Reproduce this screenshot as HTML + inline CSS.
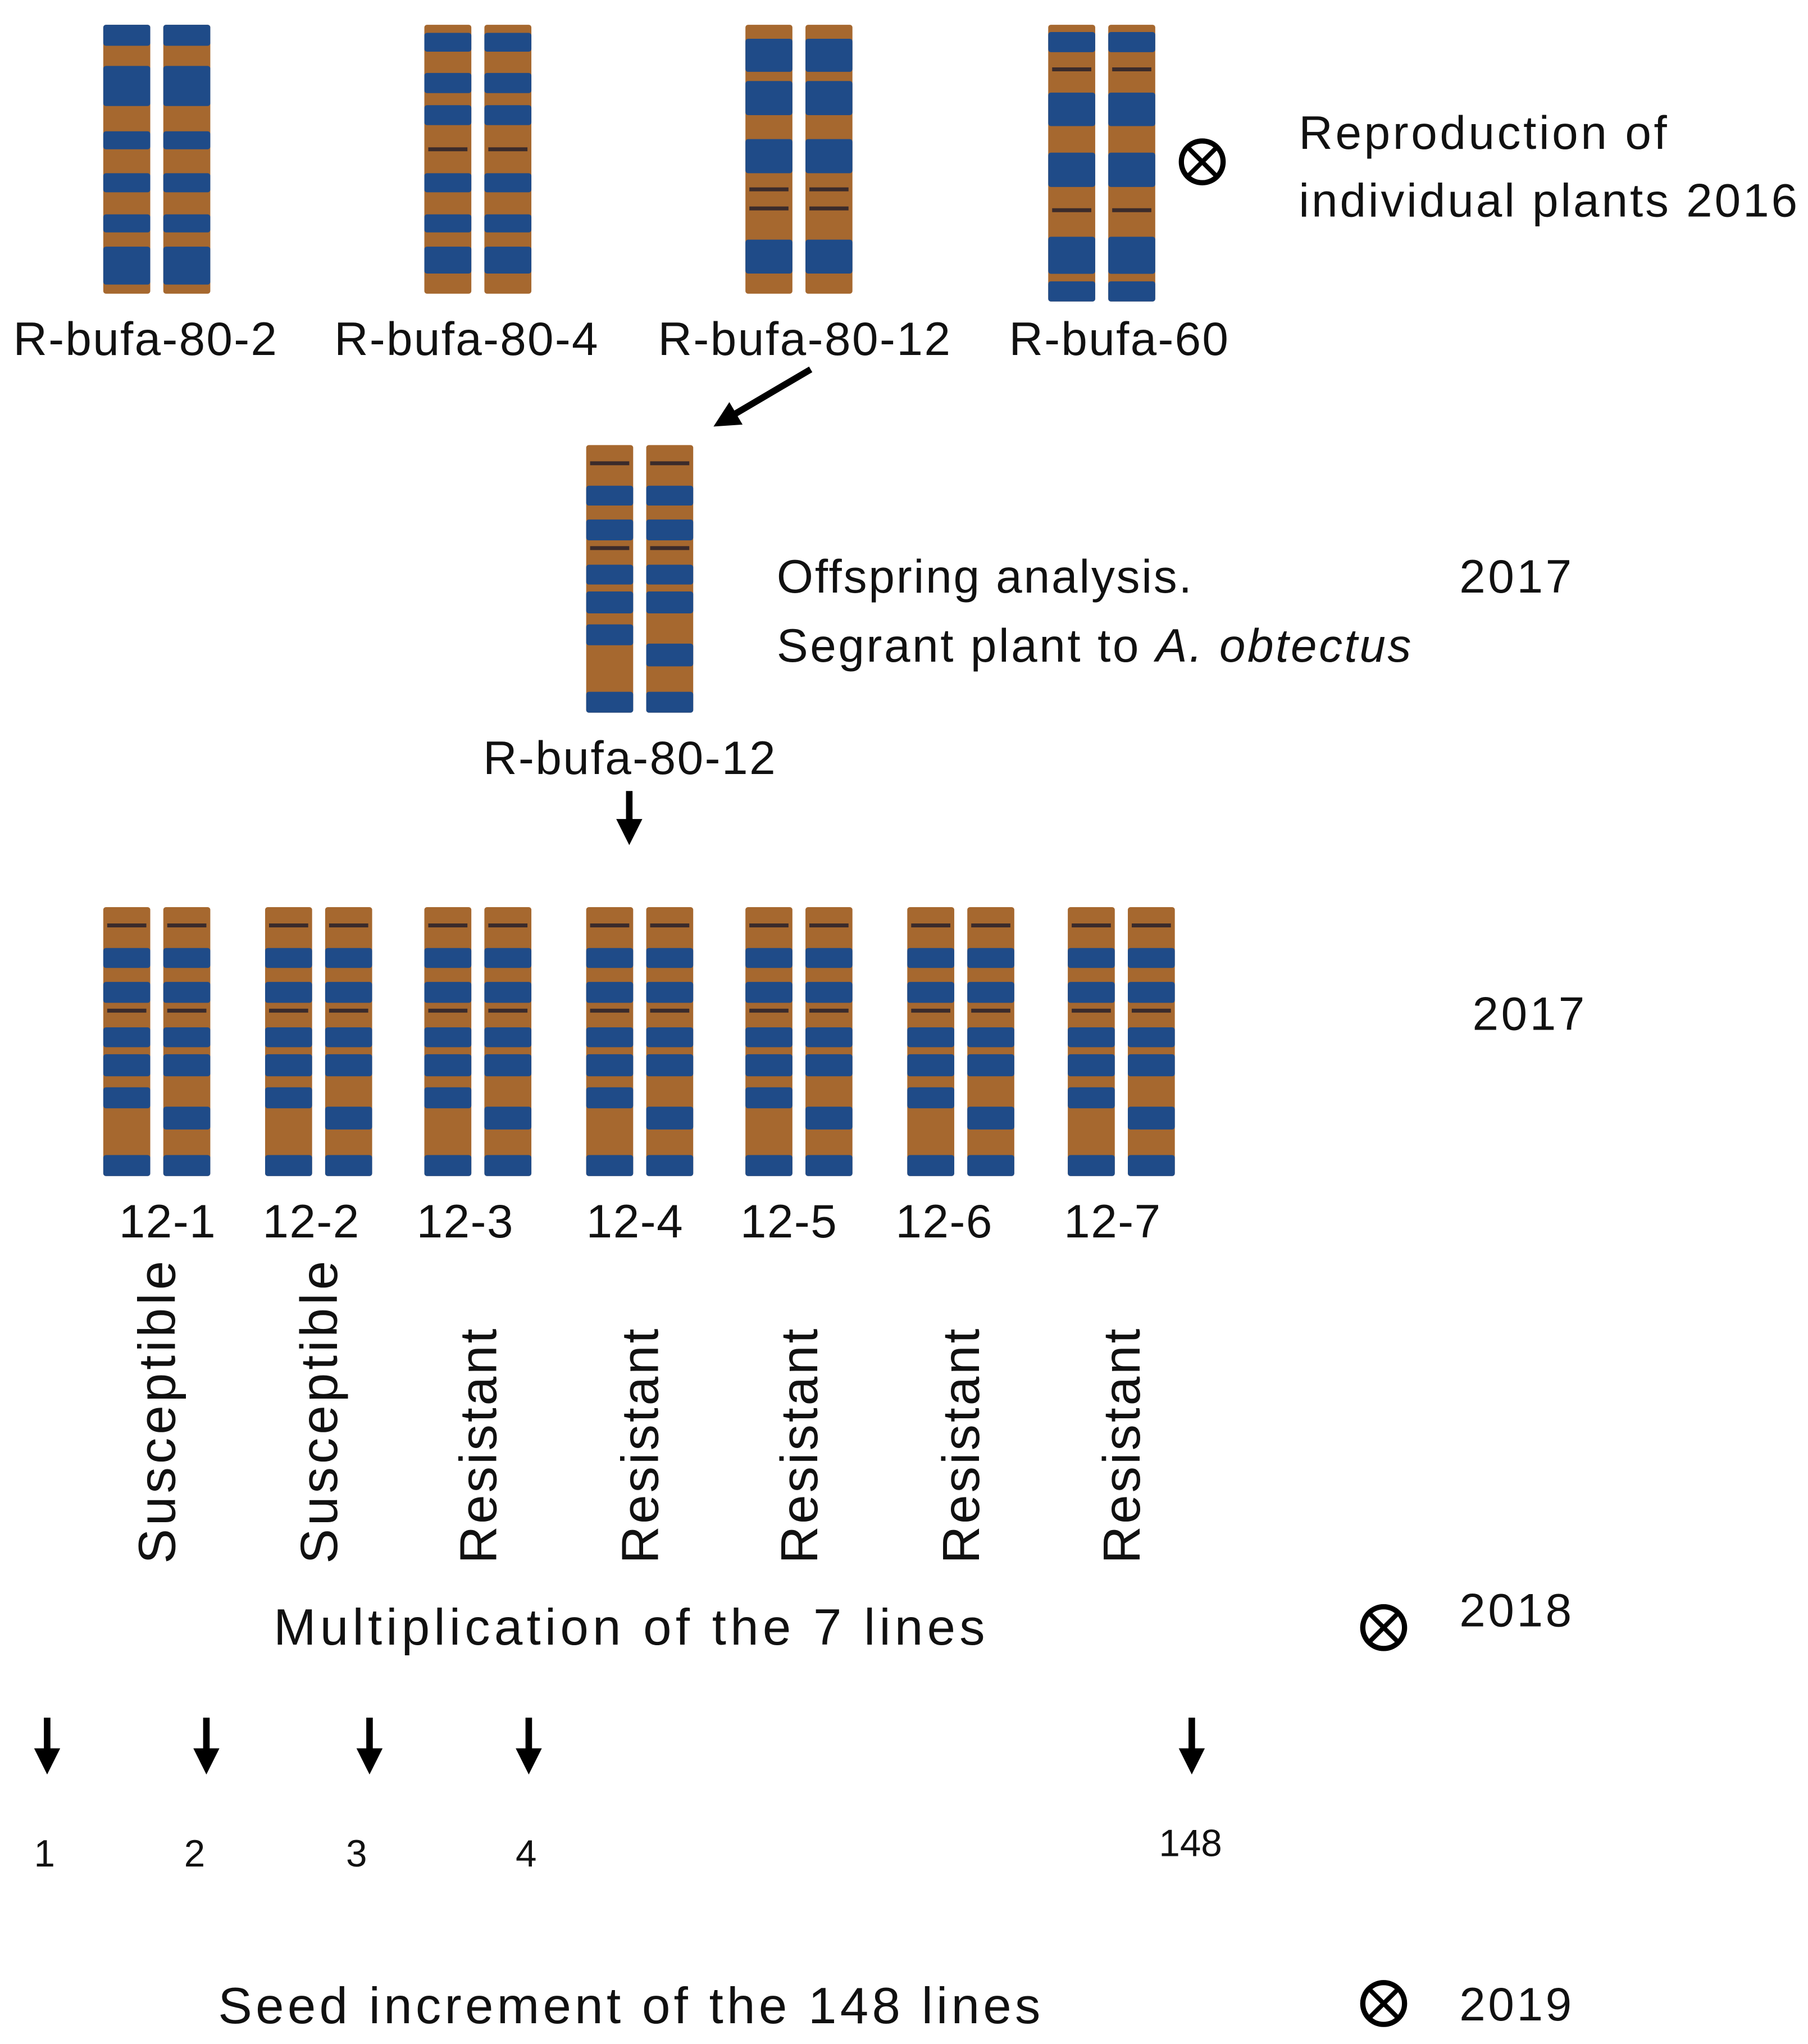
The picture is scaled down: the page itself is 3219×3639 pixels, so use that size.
<!DOCTYPE html>
<html><head><meta charset="utf-8">
<style>html,body{margin:0;padding:0;background:#fff}svg{display:block}text{font-family:"Liberation Sans",sans-serif;fill:#111}</style>
</head><body>
<svg id="fig" xmlns="http://www.w3.org/2000/svg" width="3219" height="3639" viewBox="0 0 1385 1566">
<defs><marker id="ah" markerWidth="4" markerHeight="4" refX="2.5" refY="2" orient="auto"><path d="M0,0 L4,2 L0,4 z" fill="#000"/></marker></defs>
<g id="chroms"></g>
<g font-size="36">
<text x="111" y="272" text-anchor="middle" textLength="202">R-bufa-80-2</text>
<text x="357" y="272" text-anchor="middle" textLength="202">R-bufa-80-4</text>
<text x="616" y="272" text-anchor="middle" textLength="224">R-bufa-80-12</text>
<text x="857" y="272" text-anchor="middle" textLength="168">R-bufa-60</text>
<text x="995" y="114" textLength="282">Reproduction  of</text>
<text x="995" y="166" textLength="382">individual plants 2016</text>
<text x="595" y="454" textLength="318">Offspring analysis.</text>
<text x="595" y="507" textLength="486">Segrant plant to <tspan font-style="italic">A. obtectus</tspan></text>
<text x="1118" y="454" textLength="86">2017</text>
<text x="482" y="593" text-anchor="middle" textLength="224">R-bufa-80-12</text>
<text x="1128" y="789" textLength="86">2017</text>
<text x="1118" y="1246" textLength="86">2018</text>
<text x="1118" y="1548" textLength="86">2019</text>
</g>
<g font-size="39">
<text x="482" y="1260" text-anchor="middle" textLength="545">Multiplication of the 7 lines</text>
<text x="482" y="1550" text-anchor="middle" textLength="630">Seed increment of the 148 lines</text>
</g>
<g id="lines12" font-size="36"></g>
<g id="pheno" font-size="40"></g>
<g id="bottom" font-size="29"></g>
<g stroke="#000" stroke-width="5" fill="none">
<line x1="621" y1="283" x2="553" y2="323" marker-end="url(#ah)"/>
<line x1="482" y1="606" x2="482" y2="640" marker-end="url(#ah)"/>
</g>
<g id="selfs"></g>
</svg>
<script>
const NS='http://www.w3.org/2000/svg';
const BLUE='#1f4b88',BROWN='#a6682f',DARK='#3b2b2b';
const blue802=[[0,0.078],[0.153,0.302],[0.396,0.463],[0.552,0.623],[0.705,0.772],[0.825,0.966]];
const blue804=[[0.03,0.1],[0.179,0.254],[0.299,0.373],[0.552,0.623],[0.705,0.772],[0.825,0.925]];
const line804=[0.463];
const blue8012=[[0.052,0.175],[0.209,0.336],[0.425,0.552],[0.799,0.925]];
const line8012=[0.612,0.683];
const blue60=[[0.026,0.099],[0.245,0.366],[0.462,0.586],[0.766,0.9],[0.927,1]];
const line60=[0.161,0.67];
const blueA=[[0.152,0.226],[0.278,0.356],[0.447,0.521],[0.547,0.629],[0.67,0.748],[0.922,1]];
const blueB=[[0.152,0.226],[0.278,0.356],[0.447,0.521],[0.547,0.629],[0.742,0.827],[0.922,1]];
const line12=[0.068,0.385];
const lineLabels=['12-1','12-2','12-3','12-4','12-5','12-6','12-7'];
const phenotypes=['Susceptible','Susceptible','Resistant','Resistant','Resistant','Resistant','Resistant'];
const lineNumbers=['1','2','3','4','148'];

const g=document.getElementById('chroms');
function chrom(name,x,y,w,h,blues,lines){
  const c=document.createElementNS(NS,'g');
  
  
  const r=document.createElementNS(NS,'rect');
  r.setAttribute('x',x);r.setAttribute('y',y);r.setAttribute('width',w);r.setAttribute('height',h);r.setAttribute('rx',2);r.setAttribute('fill',BROWN);
  c.appendChild(r);
  blues.forEach(b=>{const e=document.createElementNS(NS,'rect');
    e.setAttribute('x',x);e.setAttribute('y',y+b[0]*h);e.setAttribute('width',w);e.setAttribute('height',(b[1]-b[0])*h);e.setAttribute('rx',2);e.setAttribute('fill',BLUE);c.appendChild(e);});
  lines.forEach(l=>{const e=document.createElementNS(NS,'rect');
    e.setAttribute('x',x+3);e.setAttribute('y',y+l*h-1.5);e.setAttribute('width',w-6);e.setAttribute('height',3);e.setAttribute('fill',DARK);c.appendChild(e);});
  g.appendChild(c);
}
function pair(name,x,y,h,bl,ll,br,lr){chrom(name+'-left',x,y,36,h,bl,ll);chrom(name+'-right',x+46,y,36,h,br,lr);}
pair('chrom-r-bufa-80-2',79,19,206,blue802,[],blue802,[]);
pair('chrom-r-bufa-80-4',325,19,206,blue804,line804,blue804,line804);
pair('chrom-r-bufa-80-12',571,19,206,blue8012,line8012,blue8012,line8012);
pair('chrom-r-bufa-60',803,19,212,blue60,line60,blue60,line60);
pair('chrom-offspring',449,341,205,blueA,line12,blueB,line12);
const xs12=[79,203,325,449,571,695,818];
const labX=[128,238,356,486,604,723,852];
lineLabels.forEach((lab,i)=>{
  pair('chrom-line-'+lab,xs12[i],695,206,blueA,line12,blueB,line12);
  const t=document.createElementNS(NS,'text');
  
  
  t.setAttribute('x',labX[i]);t.setAttribute('y',948);t.setAttribute('text-anchor','middle');
  t.setAttribute('textLength',74);
  t.textContent=lab;document.getElementById('lines12').appendChild(t);
  const p=document.createElementNS(NS,'text');
  
  
  const cx=xs12[i]+55;
  p.setAttribute('transform','translate('+cx+',1198) rotate(-90)');
  p.setAttribute('textLength',phenotypes[i]==='Susceptible'?232:180);
  p.textContent=phenotypes[i];document.getElementById('pheno').appendChild(p);
});
const arrowX=[36,158,283,405,913];
const numX=[34,149,273,403,912];
const numY=[1430,1430,1430,1430,1422];
const bg=document.getElementById('bottom');
lineNumbers.forEach((n,i)=>{
  const l=document.createElementNS(NS,'line');
  
  
  l.setAttribute('x1',arrowX[i]);l.setAttribute('y1',1316);l.setAttribute('x2',arrowX[i]);l.setAttribute('y2',1352);
  l.setAttribute('stroke','#000');l.setAttribute('stroke-width',5);l.setAttribute('marker-end','url(#ah)');
  bg.appendChild(l);
  const t=document.createElementNS(NS,'text');
  
  
  t.setAttribute('x',numX[i]);t.setAttribute('y',numY[i]);t.setAttribute('text-anchor','middle');
  t.textContent=n;bg.appendChild(t);
});
const selfPos=[[921,124],[1060,1247],[1060,1535]];
const sg=document.getElementById('selfs');
selfPos.forEach((p,i)=>{
  const c=document.createElementNS(NS,'g');
  
  
  c.innerHTML='<circle cx="'+p[0]+'" cy="'+p[1]+'" r="16" fill="none" stroke="#000" stroke-width="4"/><line x1="'+(p[0]-11)+'" y1="'+(p[1]-11)+'" x2="'+(p[0]+11)+'" y2="'+(p[1]+11)+'" stroke="#000" stroke-width="3.5"/><line x1="'+(p[0]+11)+'" y1="'+(p[1]-11)+'" x2="'+(p[0]-11)+'" y2="'+(p[1]+11)+'" stroke="#000" stroke-width="3.5"/>';
  sg.appendChild(c);
});
</script>
</body></html>
